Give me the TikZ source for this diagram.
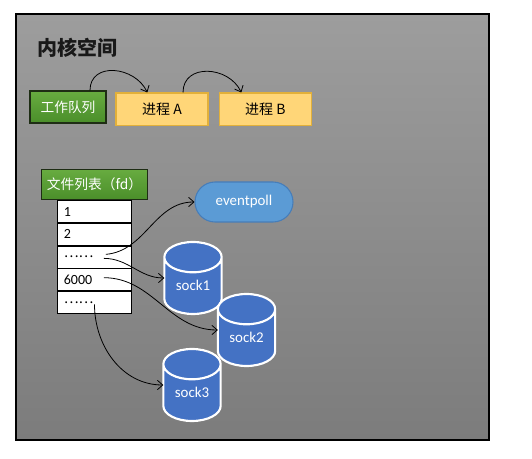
\documentclass[tikz,border=0pt]{standalone}
\usepackage{fontspec}
\setmainfont{Carlito}
\newfontfamily\cjk{Noto Sans CJK SC}
\usepackage{tikz}
\usetikzlibrary{arrows.meta, positioning, shapes.geometric}

\definecolor{panelTop}{RGB}{157,157,157}
\definecolor{panelBot}{RGB}{124,124,124}
\definecolor{qgreenTop}{RGB}{104,172,64}
\definecolor{qgreenBot}{RGB}{74,142,42}
\definecolor{qgreenDark}{RGB}{30,45,20}
\definecolor{procFill}{RGB}{255,214,120}
\definecolor{procLine}{RGB}{226,176,58}
\definecolor{epFill}{RGB}{91,155,213}
\definecolor{epLine}{RGB}{70,125,185}
\definecolor{sockFill}{RGB}{68,114,196}

\begin{document}
\begin{tikzpicture}[x=0.75pt, y=-0.75pt, >={Straight Barb[length=4pt,width=7pt]}, font=\normalsize]
  \tikzstyle{greenbox}=[draw=qgreenDark, line width=0.8pt, top color=qgreenTop, bottom color=qgreenBot, text=white, font=\cjk\fontsize{10.3}{12}\selectfont, inner sep=0pt]
  \tikzstyle{procbox}=[draw=procLine, line width=1pt, fill=procFill, font=\cjk\fontsize{10.5}{12}\selectfont, minimum width=69pt, minimum height=24.5pt]
  \tikzstyle{fdrow}=[draw=black, line width=0.6pt, fill=white, text width=46pt, inner xsep=5pt, inner ysep=0pt, minimum height=16.4pt, align=left, font=\fontsize{10.5}{12}\selectfont]
  \tikzstyle{sockdb}=[cylinder, shape border rotate=90, aspect=0.7, draw=white, line width=1.6pt, fill=sockFill, minimum width=43pt, minimum height=54pt, anchor=shape center, font=\fontsize{11.2}{13}\selectfont]
  \tikzstyle{socktext}=[text=white, font=\fontsize{11.2}{13}\selectfont]

  \useasboundingbox (0,0) rectangle (532,459);
  \draw[line width=0.8pt, top color=panelTop, bottom color=panelBot] (16,14) rectangle (489,440);

  % kernel space, work queue
  \node[anchor=west, text=black!90, font=\cjk\bfseries\fontsize{15}{18}\selectfont] (title) at (33,48) {内核空间};
  \node[greenbox, minimum width=57pt, minimum height=24pt] (queue) at (68,107) {工作队列};
  \node[procbox] (procA) at (162,109.5) {进程 A};
  \node[procbox, right=7.5pt of procA] (procB) {进程 B};

  \draw[->, line width=0.6pt] ([xshift=16.5pt]queue.north) to[out=90, in=115, looseness=1.3] ([xshift=-11pt]procA.north);
  \draw[->, line width=0.6pt] ([xshift=15.75pt]procA.north) to[out=90, in=115, looseness=1.3] ([xshift=-18pt]procB.north);

  % file table
  \node[greenbox, minimum width=80pt, minimum height=23pt] (fdhead) at (94.5,184.5) {文件列表（fd）};
  \node[fdrow, below=0pt of fdhead] (row1) {1};
  \node[fdrow, below=0pt of row1] (row2) {2};
  \node[fdrow, below=0pt of row2] (row3) {\cjk ……};
  \node[fdrow, below=0pt of row3] (row4) {6000};
  \node[fdrow, below=0pt of row4] (row5) {\cjk ……};

  \node[draw=epLine, line width=0.8pt, fill=epFill, rounded corners=15pt, minimum width=73.5pt, minimum height=30pt, text=white, font=\fontsize{11.2}{13}\selectfont] (ep) at (244,202) {eventpoll};

  % sockets
  \node[sockdb] (sock1) at (193,278) {\phantom{sock1}};
  \node[socktext] (sock1txt) at ([yshift=-5.5pt]sock1.shape center) {sock1};
  \node[sockdb] (sock2) at (246.5,330) {\phantom{sock2}};
  \node[socktext] (sock2txt) at ([yshift=-5.5pt]sock2.shape center) {sock2};
  \node[sockdb] (sock3) at (192,385) {\phantom{sock3}};
  \node[socktext] (sock3txt) at ([yshift=-5.5pt]sock3.shape center) {sock3};

  \draw[->, line width=0.6pt] ([xshift=8.5pt,yshift=2pt]row3.center) to[out=5, in=180] (ep.west);
  \draw[->, line width=0.6pt] ([xshift=7pt,yshift=-1pt]row3.center) to[out=0, in=180] ([xshift=-21.5pt]sock1.shape center);
  \draw[->, line width=0.6pt] ([xshift=7pt,yshift=1.5pt]row4.center) to[out=0, in=180] ([xshift=-21.5pt]sock2.shape center);
  \draw[->, line width=0.6pt] ([yshift=-1.5pt]row5.center) to[out=-90, in=180] ([xshift=-21.5pt]sock3.shape center);
\end{tikzpicture}
\end{document}
